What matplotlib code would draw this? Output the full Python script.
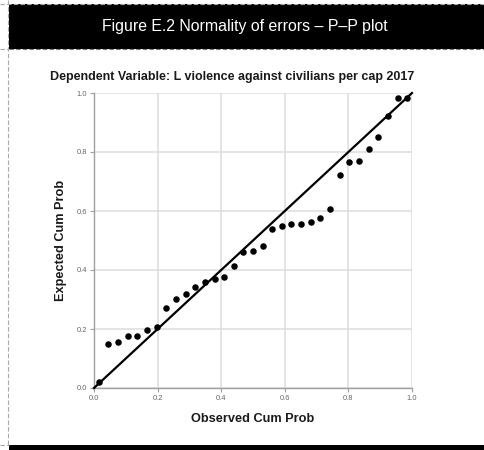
import matplotlib
matplotlib.use("Agg")
import matplotlib.pyplot as plt
from matplotlib.patches import Rectangle

# P-P plot data: observed vs expected cumulative probability of residuals
observed_cum_prob = [0.015, 0.045, 0.076, 0.106, 0.136, 0.167, 0.197, 0.227, 0.258,
                     0.288, 0.318, 0.348, 0.379, 0.409, 0.439, 0.470, 0.500, 0.530,
                     0.561, 0.591, 0.621, 0.652, 0.682, 0.712, 0.742, 0.773, 0.803,
                     0.833, 0.864, 0.894, 0.924, 0.955, 0.985]
expected_cum_prob = [0.022, 0.148, 0.155, 0.176, 0.176, 0.196, 0.206, 0.272, 0.301,
                     0.318, 0.343, 0.360, 0.369, 0.376, 0.413, 0.462, 0.466, 0.481,
                     0.538, 0.550, 0.555, 0.555, 0.564, 0.575, 0.607, 0.723, 0.766,
                     0.769, 0.809, 0.852, 0.922, 0.982, 0.984]
tick_values = [0.0, 0.2, 0.4, 0.6, 0.8, 1.0]
tick_labels = ["0.0", "0.2", "0.4", "0.6", "0.8", "1.0"]

W, H = 485, 450
fig = plt.figure(figsize=(W / 100, H / 100), dpi=100)
fig.patch.set_facecolor("white")

sans = ["Liberation Sans", "DejaVu Sans"]

# Page decoration: header bar, bottom rule, dashed guides (pixel coordinates)
deco = fig.add_axes([0, 0, 1, 1], zorder=0)
deco.set_xlim(0, W)
deco.set_ylim(H, 0)
deco.axis("off")
deco.add_patch(Rectangle((9, 4), W - 9, 45, facecolor="black", edgecolor="none"))
deco.add_patch(Rectangle((9, 445), W - 9, 5, facecolor="black", edgecolor="none"))
dash = dict(color="#a8a8a8", lw=0.8, ls=(0, (4, 2)))
deco.plot([0, W], [4, 4], **dash)
deco.plot([0, 9], [49, 49], **dash)
deco.plot([9, W], [49, 49], color="#777777", lw=0.8, ls=(0, (4, 2)))
deco.plot([0, 9], [445, 445], **dash)
deco.plot([8, 8], [0, 445], **dash)
deco.text(245, 27, "Figure E.2 Normality of errors \u2013 P\u2013P plot", color="white",
          fontsize=11.4, ha="center", va="center", family=sans)
deco.text(232, 77, "Dependent Variable: L violence against civilians per cap 2017",
          fontsize=9.0, fontweight="bold", ha="center", va="center",
          family=sans, color="#1a1a1a")

ax = fig.add_axes([94 / W, 1 - 388 / H, 318 / W, 295 / H], zorder=1)
ax.set_facecolor("none")
ax.set_xlim(0, 1)
ax.set_ylim(0, 1)
ax.set_xticks(tick_values)
ax.set_yticks(tick_values)
ax.set_xticklabels(tick_labels)
ax.set_yticklabels(tick_labels)
ax.grid(True, color="#dcdcdc", lw=1.1)
ax.set_axisbelow(True)
for side in ("top", "right"):
    ax.spines[side].set_visible(False)
for side in ("left", "bottom"):
    ax.spines[side].set_color("#a0a0a0")
    ax.spines[side].set_linewidth(1.0)
ax.tick_params(axis="both", length=3, width=0.8, color="#a0a0a0",
               labelsize=5.4, labelcolor="#666666", pad=2)
for lab in ax.get_xticklabels() + ax.get_yticklabels():
    lab.set_family(sans)

ax.plot([0, 1], [0, 1], color="black", lw=1.6, zorder=3, clip_on=False)
ax.scatter(observed_cum_prob, expected_cum_prob, s=22, color="black",
           zorder=4, clip_on=False, linewidths=0)

ax.set_xlabel("Observed Cum Prob", fontsize=9.2, fontweight="bold",
              family=sans, color="#1a1a1a", va="center")
ax.set_ylabel("Expected Cum Prob", fontsize=9.2, fontweight="bold",
              family=sans, color="#1a1a1a", va="center")
ax.xaxis.set_label_coords(0.5, (388 - 419) / 295)
ax.yaxis.set_label_coords((61 - 94) / 318, 0.5)

fig.savefig("out.png", dpi=100)
